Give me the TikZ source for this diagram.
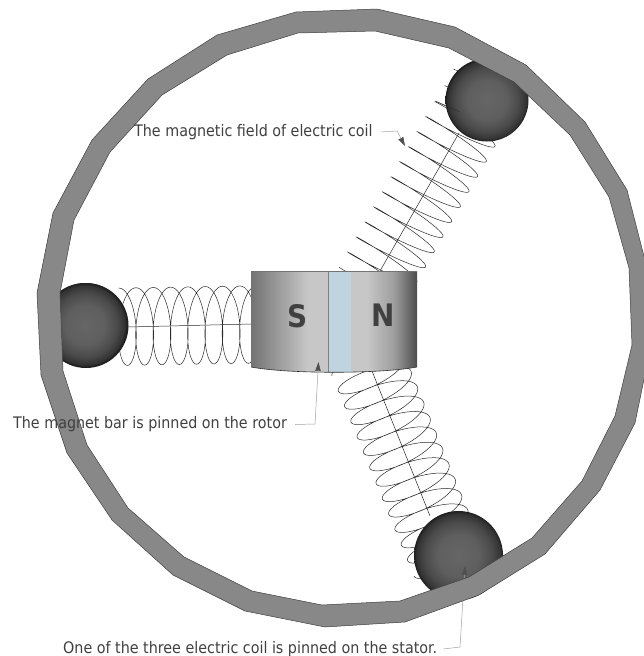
\documentclass[tikz,border=0pt]{standalone}
\usepackage{fontspec}
\setmainfont{DejaVu Sans Condensed}
\usepackage{tikz}
\usetikzlibrary{arrows.meta}

\definecolor{ringgray}{HTML}{888888}
\definecolor{inkgray}{HTML}{404040}
\definecolor{leadgray}{HTML}{A0A0A0}
\definecolor{tipgray}{HTML}{505050}
\definecolor{coilgray}{HTML}{2A2A2A}
\definecolor{bandblue}{HTML}{C0D4E0}

\pgfdeclareradialshading{ballshade}{\pgfpoint{0bp}{0bp}}{color(0bp)=(black!60); color(12bp)=(black!63); color(19bp)=(black!71); color(23.5bp)=(black!80); color(25bp)=(black!88); color(50bp)=(black!88)}
\pgfdeclarehorizontalshading{magnetshade}{100bp}{color(0bp)=(black!55); color(25bp)=(black!55); color(42bp)=(black!22); color(60bp)=(black!22); color(68bp)=(black!38); color(75bp)=(black!70); color(100bp)=(black!70)}

\tikzset{
    label text/.style={font=\fontsize{15.9}{18}\selectfont, text=inkgray, inner sep=0pt, anchor=west},
    lead line/.style={leadgray, line width=0.5pt, -{Stealth[length=9pt,width=5.5pt,inset=0.5pt,color=tipgray]}},
    pole text/.style={font=\fontsize{31}{31}\selectfont\bfseries, text=inkgray, inner sep=0pt},
    coil line/.style={coilgray, line width=0.5pt},
    ball/.style={shading=ballshade}
}

% sx sy, pitch Px Py, half width Bx By, skew Ax Ay, turns
\newcommand{\drawcoil}[9]{%
    \draw[coil line] plot[variable=\t, domain=-90:{360*#9-90}, samples={40*#9+1}]
    ({#1+#3*((\t+90)/360)-#7*cos(\t)+#5*sin(\t)}, {#2+#4*((\t+90)/360)-#8*cos(\t)+#6*sin(\t)});
}

\begin{document}
\begin{tikzpicture}[x=1pt, y=-1pt, >=stealth]
    \useasboundingbox (0,0) rectangle (644,656);

    \coordinate (BallLeft) at (85,325);
    \coordinate (BallTop) at (487,100);
    \coordinate (BallBottom) at (458.5,555.5);

    % coils
    \drawcoil{118.7}{326.8}{17.3}{-0.3}{0}{38.8}{-13}{0}{8}
    \drawcoil{467}{120.2}{-8.67}{15.07}{32.3}{18.65}{-1.7}{2.95}{11}
    \drawcoil{366.8}{362}{6.3}{15.4}{34.8}{-13.9}{4.66}{11.4}{13}

    % axes
    \draw[coil line] (128,327) -- (251,324);
    \draw[coil line] (459,133) -- (380,271);
    \draw[coil line] (430,516) -- (372,371);

    % balls
    \fill[black!88] (86,325.5) circle (42.5);
    \shade[ball] (BallLeft) circle (42);
    \shade[ball] (BallTop) circle (41.5);
    \shade[ball] (BallBottom) circle (44.5);

    % coil ends on the top ball
    \draw[coil line] (435.3,101) -- (459.3,111.7) (435.3,101) -- (448,107);
    \draw[coil line] (444.7,85.7) -- (452,88.3);
    \draw[coil line] (453.7,69.3) -- (460.3,71.7);

    % magnet
    \shade[shading=magnetshade] (251,271) -- (417,271) -- (417,367) .. controls (380,374) and (288,374) .. (251,367) -- cycle;
    \begin{scope}
        \clip (251,271) -- (417,271) -- (417,367) .. controls (380,374) and (288,374) .. (251,367) -- cycle;
        \fill[bandblue] (328,271) rectangle (351,375);
        \draw[black!50, line width=0.7pt] (328,271) -- (328,375);
    \end{scope}
    \draw[black!55, line width=0.6pt] (251,271) -- (417,271);
    \draw[black!80, line width=0.6pt] (417,367) .. controls (380,374) and (288,374) .. (251,367);
    \node[pole text] (PoleS) at (297.5,316) {S};
    \node[pole text] (PoleN) at (383,315) {N};

    \node[label text] (LabelCoil) at (63,649) {One of the three electric coil is pinned on the stator.};
    \coordinate (TipCoil) at (465,566);
    \draw[lead line] ([xshift=6pt]LabelCoil.east) -- (460,647) -- (TipCoil);

    % ring
    \draw[fill=ringgray, draw=black!75, line width=0.5pt, even odd rule]
        plot coordinates {(37,293) (41,375) (67,453) (112,520) (173,575) (245,611) (325,627) (405,622) (479,595) (545,554) (600,490) (635,423) (650,350) (648,272) (627,190) (585,122) (526,65) (455,27) (377,9) (296,12) (217,35) (148,79) (92,140) (53,213)} -- cycle
        plot coordinates {(60,293) (63,371) (87,445) (128,508) (184,557) (252,591) (322,605) (400,601) (469,577) (532,538) (582,481) (615,416) (632,345) (629,268) (609,197) (570,135) (514,82) (449,48) (375,31) (298,33) (227,55) (162,95) (110,152) (74,220)} -- cycle;

    % labels over the ring
    \node[label text] (LabelField) at (134,132) {The magnetic field of electric coil};
    \node[label text] (LabelMagnet) at (13,424.5) {The magnet bar is pinned on the rotor};
    \coordinate (TipField) at (405,146);
    \coordinate (TipMagnet) at (318.5,362);
    \draw[lead line] ([xshift=8pt]LabelField.east) -- (397,131) -- (TipField);
    \draw[lead line] ([xshift=8pt]LabelMagnet.east) -- (315,424) -- (TipMagnet);
\end{tikzpicture}
\end{document}
